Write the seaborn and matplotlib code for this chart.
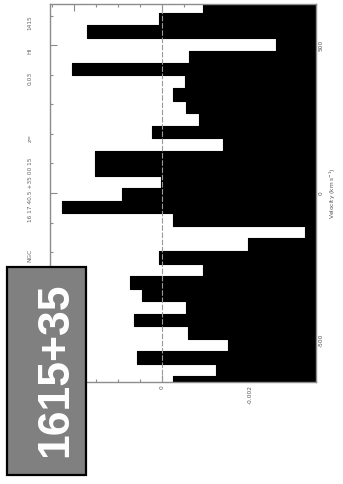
import numpy as np
import pandas as pd
import matplotlib
matplotlib.use("Agg")
import matplotlib.pyplot as plt
import seaborn as sns
from matplotlib.patches import Rectangle
from matplotlib.ticker import MultipleLocator, FixedLocator, FixedFormatter

# HI absorption spectrum of B2 1615+35, channel centres (km/s) and flux density
velocity = [631, 589, 546, 504, 461, 419, 377, 334, 292, 249, 207, 165, 122, 80,
            37, -5, -48, -90, -133, -175, -218, -260, -302, -345, -387, -430,
            -472, -515, -557, -600, -642]
flux = [-0.00093, 0.00007, 0.00170, -0.00259, -0.00061, 0.00205, -0.00052,
        -0.00025, -0.00055, -0.00084, 0.00023, -0.00139, 0.00152, 0.00152,
        0.00003, 0.00091, 0.00227, -0.00025, -0.00325, -0.00196, 0.00007,
        -0.00093, 0.00073, 0.00046, -0.00055, 0.00064, -0.00059, -0.00150,
        0.00057, -0.00123, -0.00025]

vel_ticks = [-500, 0, 500]
vel_labels = ["-500", "0", "500"]
flux_ticks = [-0.002, 0, 0.002]
flux_labels = ["-0.002", "0", ""]
header_words = ["NGC", "16 17 40.5 +35 00 15", "z=", "0.03", "HI", "1415"]
source_name = "1615+35"

sns.set_style("ticks")
plt.rcParams["axes.unicode_minus"] = False
plt.rcParams["font.family"] = ["DejaVu Sans"]

W, H = 343, 484
fig = plt.figure(figsize=(W / 100, H / 100), dpi=100)
fig.patch.set_facecolor("white")

def fx(px):
    return px / W

def fy(py):
    return 1 - py / H

ax = fig.add_axes([fx(50), fy(382), fx(316) - fx(50), fy(4) - fy(382)])

v = np.asarray(velocity, dtype=float)
f = np.asarray(flux, dtype=float)
w = v[0] - v[1]
edges = np.concatenate([[v[0] + w / 2], (v[:-1] + v[1:]) / 2, [v[-1] - w / 2]])
ys = np.repeat(edges, 2)[1:-1]
xs = np.repeat(f, 2)

xlo, xhi = 0.00255, -0.0035
ax.fill_betweenx(ys, xs, xhi - 0.001, color="black", lw=0, zorder=2)
step = pd.DataFrame({"flux": xs, "velocity": ys})
sns.lineplot(data=step, x="flux", y="velocity", sort=False, estimator=None,
             color="black", lw=0.8, ax=ax, zorder=2)
ax.axvline(0, color="#9a9a9a", ls=(0, (5, 1.5)), lw=0.8, zorder=3)

ax.set_xlim(xlo, xhi)
ax.set_ylim(-640, 640)

frame_col = "#8c8c8c"
for s in ax.spines.values():
    s.set_color(frame_col)
    s.set_linewidth(1.0)
    s.set_zorder(4)

ax.yaxis.set_major_locator(FixedLocator(vel_ticks))
ax.yaxis.set_major_formatter(FixedFormatter(vel_labels))
ax.yaxis.set_minor_locator(MultipleLocator(100))
ax.xaxis.set_major_locator(FixedLocator(flux_ticks))
ax.xaxis.set_major_formatter(FixedFormatter(flux_labels))
ax.xaxis.set_minor_locator(MultipleLocator(0.0005))

ax.tick_params(which="both", direction="in", color=frame_col, width=0.8,
               top=True, bottom=True, left=True, right=True,
               labelleft=False, labelright=True, labeltop=False, labelbottom=True,
               labelsize=4.2, labelcolor="#555555", pad=2)
ax.tick_params(which="major", length=5)
ax.tick_params(which="minor", length=2.5)
for lab in ax.get_yticklabels():
    lab.set_rotation(90)
    lab.set_va("center")
    lab.set_ha("left")
for lab in ax.get_xticklabels():
    lab.set_rotation(90)
    lab.set_ha("center")
    lab.set_va("top")

ax.set_xlabel("")
ax.yaxis.set_label_position("right")
ax.set_ylabel("Velocity (km s$^{-1}$)", rotation=90, fontsize=4.2,
              color="#555555", labelpad=3)

# header line along the original top axis
header_y = [255, 190, 138, 78, 51, 23]
for word, py in zip(header_words, header_y):
    fig.text(fx(30), fy(py), word, rotation=90, ha="center", va="center",
             fontsize=4.2, color="#666666")

# source name tag
fig.add_artist(Rectangle((fx(7), fy(475)), fx(86) - fx(7), fy(267) - fy(475),
                         transform=fig.transFigure, facecolor="#808080",
                         edgecolor="black", lw=1.6, zorder=10))
fig.text(fx(56), fy(370), source_name, rotation=90, ha="center", va="center",
         fontsize=32, fontweight="bold", color="white",
         family=["Liberation Sans", "DejaVu Sans"], zorder=11)

fig.savefig("out.png", dpi=100, facecolor="white")
